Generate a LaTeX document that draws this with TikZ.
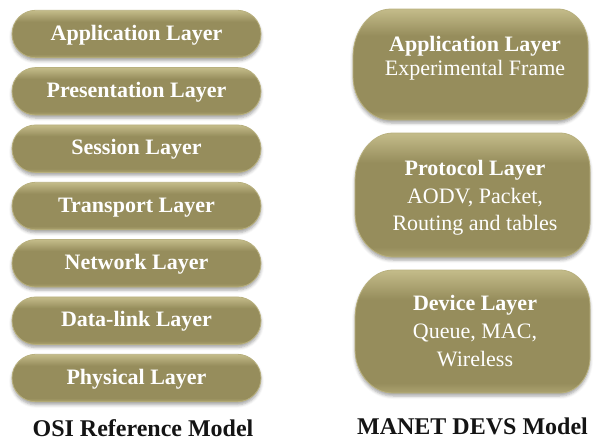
\documentclass[tikz,border=0pt]{standalone}
\usepackage{fontspec}
\newfontfamily\libserif{Liberation Serif}
\usetikzlibrary{shadows.blur,shapes.misc}

\definecolor{olmid}{RGB}{150,141,92}
\definecolor{oltop}{RGB}{196,188,138}
\definecolor{olbot}{RGB}{172,163,112}
\definecolor{olrim}{RGB}{184,176,126}
\definecolor{captext}{RGB}{20,20,20}

% glossy olive fill: light rim at the top, slight lift at the bottom
\pgfdeclareverticalshading{olivebevel}{100bp}{%
  color(0bp)=(olbot); color(25bp)=(olbot); color(29bp)=(olmid);
  color(63bp)=(olmid); color(75bp)=(oltop); color(100bp)=(oltop)}

\tikzset{
  olivefill/.style={shading=olivebevel, draw=olrim, line width=0.8pt,
    blur shadow={shadow xshift=0pt, shadow yshift=-3pt,
                 shadow blur radius=3pt, shadow opacity=35}},
  pill/.style={olivefill, rounded rectangle, minimum width=249pt,
    minimum height=47.5pt, inner sep=0pt, text=white,
    font=\fontsize{22}{26}\selectfont\bfseries,
    text height=12pt, text depth=0pt},
  headline/.style={anchor=base, text=white, inner sep=0pt,
    font=\fontsize{22}{26}\selectfont\bfseries},
  bodyline/.style={anchor=base, text=white, inner sep=0pt,
    font=\fontsize{22}{26}\selectfont},
  caption/.style={anchor=base, text=captext, inner sep=0pt,
    font=\fontsize{24}{28}\selectfont\bfseries}
}

% rounded box with elliptical corners: #1 left, #2 top, #3 right, #4 bottom
\newcommand\olivebox[4]{%
  \path[olivefill]
    (#1,#2+48) arc[start angle=180, end angle=270, x radius=38, y radius=48]
    -- (#3-30,#2) arc[start angle=270, end angle=360, x radius=30, y radius=36]
    -- (#3,#4-36) arc[start angle=0, end angle=90, x radius=30, y radius=36]
    -- (#1+38,#4) arc[start angle=90, end angle=180, x radius=38, y radius=44]
    -- cycle;}

\begin{document}
\begin{tikzpicture}[x=1pt, y=-1pt]
\useasboundingbox (0,0) rectangle (596,442);

% OSI reference model stack
\node[pill] (osi7) at (136.5,34.0)  {\libserif Application Layer};
\node[pill] (osi6) at (136.5,91.3)  {\libserif Presentation Layer};
\node[pill] (osi5) at (136.5,148.7) {\libserif Session Layer};
\node[pill] (osi4) at (136.5,206.0) {\libserif Transport Layer};
\node[pill] (osi3) at (136.5,263.3) {\libserif Network Layer};
\node[pill] (osi2) at (136.5,320.7) {\libserif Data-link Layer};
\node[pill] (osi1) at (136.5,378.0) {\libserif Physical Layer};
\node[caption] (osicap) at (143,436) {\libserif OSI Reference Model};

% MANET DEVS model stack
\olivebox{353}{9}{588}{120}
\node[headline] (appA) at (475,51) {\libserif Application Layer};
\node[bodyline] (appB) at (475,75) {\libserif Experimental Frame};

\olivebox{355}{133}{590}{257}
\node[headline] (proA) at (475,175) {\libserif Protocol Layer};
\node[bodyline] (proB) at (475,203) {\libserif AODV, Packet,};
\node[bodyline] (proC) at (475,230) {\libserif Routing and tables};

\olivebox{355}{270}{590}{393}
\node[headline] (devA) at (475,310) {\libserif Device Layer};
\node[bodyline] (devB) at (475,338) {\libserif Queue, MAC,};
\node[bodyline] (devC) at (475,366) {\libserif Wireless};
\node[caption] (manetcap) at (472.5,434) {\libserif MANET DEVS Model};
\end{tikzpicture}
\end{document}
